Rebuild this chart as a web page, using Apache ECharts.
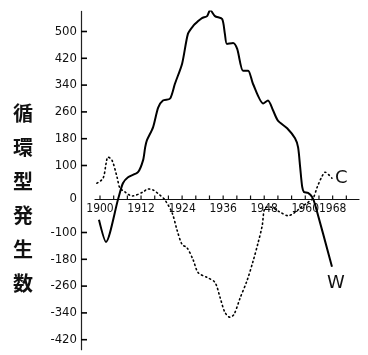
<!DOCTYPE html>
<html><head><meta charset="utf-8">
<script src="https://cdn.jsdelivr.net/npm/echarts@6/dist/echarts.min.js"></script>
<style>html,body{margin:0;padding:0;background:#fff}#c{width:368px;height:355px}</style>
</head><body><div id="c"></div>
<script>
// W (solid) series: [year, value]
const wYears = [1899.7,1901.75,1905.3,1906.7,1908.2,1911.1,1912.6,1913.2,1913.7,1915.5,1917.0,1918.4,1920.5,1921.9,1924.0,1925.7,1927.2,1928.7,1929.8,1931.3,1932.2,1933.6,1935.7,1936.5,1937.1,1938.9,1940.1,1941.8,1943.3,1944.7,1947.7,1949.1,1950.6,1952.0,1954.7,1957.0,1957.9,1958.5,1959.1,1959.6,1960.8,1962.0,1962.9,1967.8];
const wValues = [-62,-128,0,47,65,80,116,154,175,214,273,294,300,344,404,493,516,531,540,546,564,546,537,493,463,466,448,383,383,344,285,294,264,234,211,181,154,95,36,21,18,6,-18,-202];
// C (dotted) series
const cYears = [1899.1,1900.9,1901.8,1902.3,1903.5,1905.0,1905.8,1907.3,1909.4,1912.6,1914.0,1915.5,1917.5,1919.0,1921.1,1922.5,1924.0,1925.4,1927.2,1928.7,1931.3,1933.6,1935.1,1936.5,1938.0,1939.2,1940.9,1943.0,1944.7,1946.2,1947.4,1948.2,1949.7,1952.6,1955.0,1956.7,1958.5,1960.5,1962.3,1963.5,1964.9,1965.8,1967.0,1967.8];
const cValues = [47,62,107,125,116,65,33,21,9,21,30,27,12,-3,-42,-92,-136,-145,-181,-220,-234,-249,-294,-338,-353,-344,-297,-243,-187,-131,-80,-27,-24,-39,-50,-42,-27,-12,3,36,68,80,71,62];
const xTickLabels = [1900,1912,1924,1936,1948,1960,1968];
const xTicks = [1900,1904,1908,1912,1916,1920,1924,1928,1932,1936,1940,1944,1948,1952,1956,1960,1964,1968,1972];
const yTickLabels = [-420,-340,-260,-180,-100,0,100,180,260,340,420,500];
const yTicks = [-420,-340,-260,-180,-100,100,180,260,340,420,500];
const yTitle = '循環型発生数';
const wName = 'W', cName = 'C';

const zip = (a,b) => a.map((v,i)=>[v,b[i]]);
const numFont = "'DejaVu Sans Condensed','Liberation Sans Narrow','DejaVu Sans',sans-serif";
const xMin = 1898.54, xMax = 1975.7;
const gridTop = 11.4, gridBottom = 5.25, yMin = -450, yMax = 560;
const yAxisOffset = 14;
const plotH = 355 - gridTop - gridBottom;
const zeroOffset = -plotH * (0 - yMin) / (yMax - yMin);
const chart = echarts.init(document.getElementById('c'), null, {renderer:'canvas'});
chart.setOption({
  animation:false,
  backgroundColor:'#fff',
  grid:{left:95, right:9, top:gridTop, bottom:gridBottom},
  xAxis:{
    type:'value', min:xMin, max:xMax, position:'bottom', offset:zeroOffset,
    axisLine:{onZero:false, lineStyle:{color:'#111', width:1.2}},
    axisTick:{show:false},
    axisLabel:{customValues:xTickLabels, formatter:v=>String(v), color:'#111', fontSize:12, margin:4, fontFamily:numFont},
    splitLine:{show:false}
  },
  yAxis:{
    type:'value', min:yMin, max:yMax, offset:yAxisOffset,
    axisLine:{show:true, onZero:false, lineStyle:{color:'#222', width:1.2}},
    axisTick:{show:false},
    axisLabel:{customValues:yTickLabels, formatter:v=>String(v), color:'#111', fontSize:13, margin:4, fontFamily:numFont},
    splitLine:{show:false}
  },
  series:[
    {name:wName, type:'line', smooth:0.25, symbol:'none', data:zip(wYears,wValues),
     lineStyle:{color:'#000', width:2},
     endLabel:{show:true, formatter:wName, color:'#111', fontSize:18, fontFamily:"'DejaVu Sans',sans-serif", align:'center', verticalAlign:'top', offset:[-4,8]}},
    {name:cName, type:'line', smooth:0.3, symbol:'none', data:zip(cYears,cValues),
     lineStyle:{color:'#000', width:1.6, type:[1.2,3.2], cap:'round'},
     endLabel:{show:true, formatter:cName, color:'#111', fontSize:18, fontFamily:"'DejaVu Sans',sans-serif", align:'left', verticalAlign:'middle', offset:[-5,0]}}
  ]
});

// Tick marks placed through the chart's own scales (convertToPixel)
const g = [{
  type:'text', left:13, top:96,
  style:{text:yTitle.split('').join('\n'), fontSize:20, lineHeight:34, fill:'#111',
    fontFamily:"'Noto Sans CJK JP',sans-serif", fontWeight:'bold', textAlign:'left'}
}];
yTicks.forEach(v => {
  const p = chart.convertToPixel({xAxisIndex:0, yAxisIndex:0}, [xMin, v]);
  g.push({type:'rect', z:100, silent:true,
    shape:{x:p[0]-yAxisOffset, y:p[1]-0.8, width:6, height:1.6}, style:{fill:'#000'}});
});
xTicks.forEach(v => {
  const p = chart.convertToPixel({xAxisIndex:0, yAxisIndex:0}, [v, 0]);
  g.push({type:'rect', z:100, silent:true,
    shape:{x:p[0]-0.6, y:p[1]-3.5, width:1.2, height:3.5}, style:{fill:'#111'}});
});
chart.setOption({graphic:g});
</script></body></html>
